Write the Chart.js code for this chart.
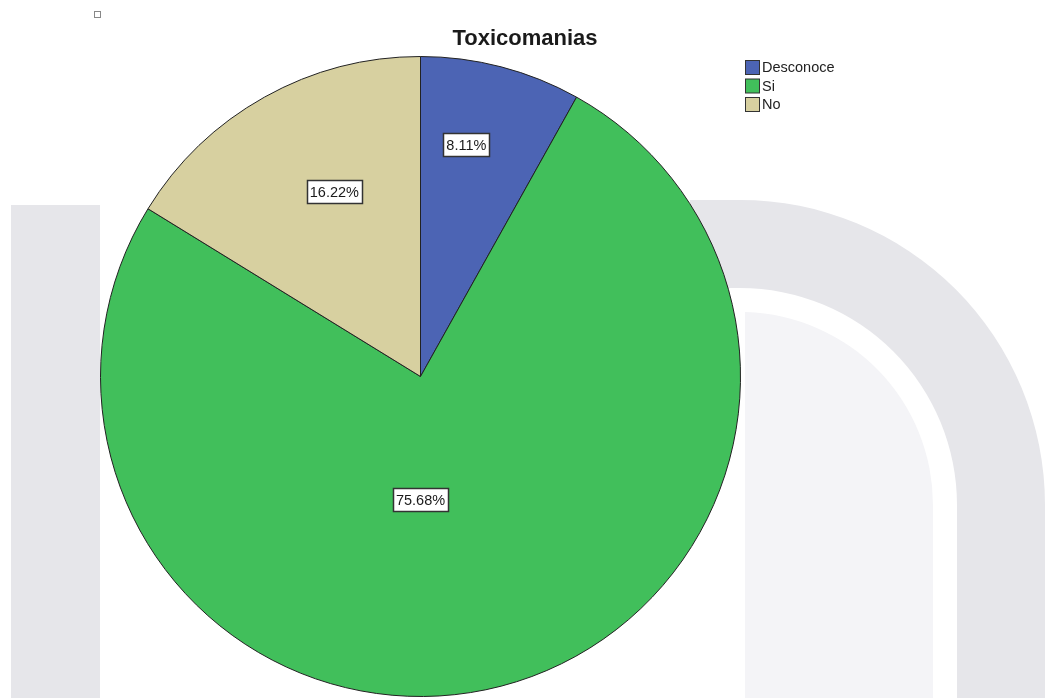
<!DOCTYPE html>
<html>
<head>
<meta charset="utf-8">
<script src="https://cdn.jsdelivr.net/npm/chart.js@4"></script>
<style>
  html, body { margin: 0; padding: 0; background: #ffffff; }
  #wrap { position: relative; width: 1048px; height: 698px; }
</style>
</head>
<body>
<div id="wrap"><canvas id="c"></canvas></div>
<script>
// ---- Data ----
const categories = ["Desconoce", "Si", "No"];
const percentages = [8.11, 75.68, 16.22];
const sliceColors = ["#4c64b4", "#41bf5b", "#d7d0a0"];
const chartTitle = "Toxicomanias";

// label placement (polar, relative to pie centre): angle in degrees clockwise from 12 o'clock, radius fraction
const labelPlacement = [
  { angle: 11.2, r: 0.738 },
  { angle: 180, r: 0.385 },
  { angle: -25, r: 0.637 }
];

const backdropPlugin = {
  id: 'backdrop',
  beforeDraw(chart) {
    const ctx = chart.ctx;
    ctx.save();
    ctx.fillStyle = '#ffffff';
    ctx.fillRect(0, 0, chart.width, chart.height);
    // faint watermark shapes
    ctx.fillStyle = '#e6e6ea';
    ctx.fillRect(11, 205, 89, 493);
    // right arch
    ctx.beginPath();
    ctx.moveTo(690, 200);
    ctx.lineTo(740, 200);
    ctx.arc(740, 505, 305, -Math.PI / 2, 0);
    ctx.lineTo(1045, 698);
    ctx.lineTo(957, 698);
    ctx.lineTo(957, 505);
    ctx.arc(740, 505, 217, 0, -Math.PI / 2, true);
    ctx.lineTo(690, 288);
    ctx.closePath();
    ctx.fill();
    ctx.fillStyle = '#f4f4f7';
    ctx.beginPath();
    ctx.moveTo(745, 698);
    ctx.lineTo(745, 312);
    ctx.arc(740, 505, 193, -Math.PI / 2 + 0.03, 0);
    ctx.lineTo(933, 698);
    ctx.closePath();
    ctx.fill();
    ctx.restore();
  }
};

const decorPlugin = {
  id: 'decor',
  afterDraw(chart) {
    const ctx = chart.ctx;
    ctx.save();
    // small marker square top-left
    ctx.strokeStyle = '#888';
    ctx.lineWidth = 1;
    ctx.strokeRect(94.5, 11.5, 6, 6);

    // title
    ctx.fillStyle = '#1a1a1a';
    ctx.font = 'bold 22px "Liberation Sans", Arial, sans-serif';
    ctx.textAlign = 'center';
    ctx.textBaseline = 'middle';
    ctx.fillText(chartTitle, 525, 39);

    // legend
    ctx.font = '14.5px "Liberation Sans", Arial, sans-serif';
    ctx.textAlign = 'left';
    chart.data.labels.forEach((lab, i) => {
      const y = 60 + i * 18.5;
      ctx.fillStyle = chart.data.datasets[0].backgroundColor[i];
      ctx.fillRect(745.5, y + 0.5, 14, 14);
      ctx.strokeStyle = '#333';
      ctx.strokeRect(745.5, y + 0.5, 14, 14);
      ctx.fillStyle = '#222';
      ctx.fillText(lab, 762, y + 8);
    });

    // value labels
    const meta = chart.getDatasetMeta(0);
    ctx.font = '14.5px "Liberation Sans", Arial, sans-serif';
    ctx.textAlign = 'center';
    meta.data.forEach((arc, i) => {
      const p = arc.getProps(['x', 'y', 'outerRadius'], true);
      const pl = labelPlacement[i];
      const a = pl.angle * Math.PI / 180;
      const cx = p.x + Math.sin(a) * p.outerRadius * pl.r;
      const cy = p.y - Math.cos(a) * p.outerRadius * pl.r;
      const txt = chart.data.datasets[0].data[i].toFixed(2) + '%';
      const w = ctx.measureText(txt).width + 6;
      const h = 23;
      ctx.fillStyle = '#ffffff';
      ctx.fillRect(Math.round(cx - w / 2) + 0.5, Math.round(cy - h / 2) + 0.5, Math.round(w), h);
      ctx.strokeStyle = '#333';
      ctx.lineWidth = 1.5;
      ctx.strokeRect(Math.round(cx - w / 2) + 0.5, Math.round(cy - h / 2) + 0.5, Math.round(w), h);
      ctx.fillStyle = '#1a1a1a';
      ctx.fillText(txt, cx, cy + 1);
    });
    ctx.restore();
  }
};

new Chart(document.getElementById('c'), {
  type: 'pie',
  data: {
    labels: categories,
    datasets: [{
      data: percentages,
      backgroundColor: sliceColors,
      borderColor: '#222222',
      borderWidth: 1,
      hoverOffset: 0
    }]
  },
  options: {
    responsive: true,
    maintainAspectRatio: false,
    animation: false,
    layout: { padding: { top: 56, left: 100, right: 307, bottom: 1 } },
    plugins: {
      legend: { display: false },
      title: { display: false },
      tooltip: { enabled: false }
    }
  },
  plugins: [backdropPlugin, decorPlugin]
});
</script>
</body>
</html>
